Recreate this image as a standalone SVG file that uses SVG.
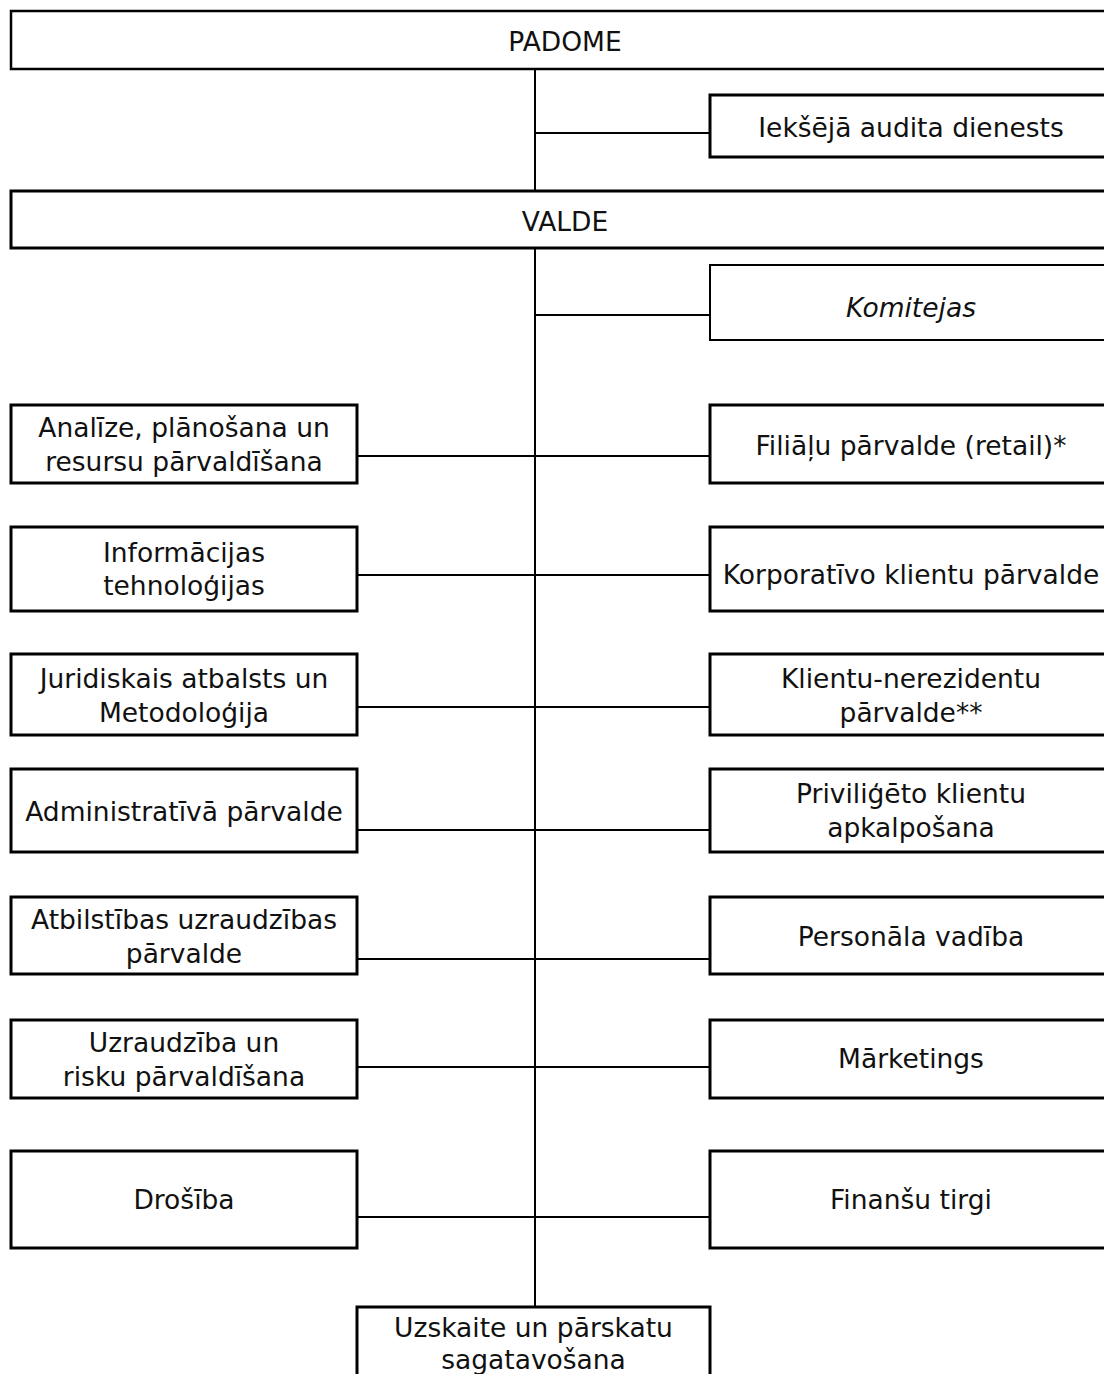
<svg xmlns="http://www.w3.org/2000/svg" width="1104" height="1374" viewBox="0 0 1104 1374">
<style>
.box{fill:#fff;stroke:#000;stroke-width:3}
.thin{stroke-width:2}
.ln{stroke:#000;stroke-width:2;fill:none}
text{font-family:"DejaVu Sans","Verdana",sans-serif;font-size:26.5px;fill:#111;text-anchor:middle}
.it{font-style:italic}
</style>
<rect width="1104" height="1374" fill="#fff"/>
<g id="connectors">
<line class="ln" x1="535" y1="69" x2="535" y2="1307"/>
<line class="ln" x1="535" y1="133" x2="710" y2="133"/>
<line class="ln" x1="535" y1="315" x2="710" y2="315"/>
<line class="ln" x1="357" y1="456" x2="710" y2="456"/>
<line class="ln" x1="357" y1="575" x2="710" y2="575"/>
<line class="ln" x1="357" y1="707" x2="710" y2="707"/>
<line class="ln" x1="357" y1="830" x2="710" y2="830"/>
<line class="ln" x1="357" y1="959" x2="710" y2="959"/>
<line class="ln" x1="357" y1="1067" x2="710" y2="1067"/>
<line class="ln" x1="357" y1="1217" x2="710" y2="1217"/>
</g>
<g id="padome"><rect class="box" x="11" y="11" width="1110" height="58" style="stroke-width:2.5"/><text x="565" y="51">PADOME</text></g>
<g id="audits"><rect class="box" x="710" y="95" width="410" height="62"/><text x="911" y="137">Iekšējā audita dienests</text></g>
<g id="valde"><rect class="box" x="11" y="191" width="1110" height="57"/><text x="565" y="231">VALDE</text></g>
<g id="komitejas"><rect class="box thin" x="710" y="265" width="410" height="75"/><text class="it" x="911" y="317">Komitejas</text></g>

<g id="analize"><rect class="box" x="11" y="405" width="346" height="78"/><text x="184" y="437">Analīze, plānošana un</text><text x="184" y="471">resursu pārvaldīšana</text></g>
<g id="filialu"><rect class="box" x="710" y="405" width="410" height="78"/><text x="911" y="455">Filiāļu pārvalde (retail)*</text></g>

<g id="it"><rect class="box" x="11" y="527" width="346" height="84"/><text x="184" y="562">Informācijas</text><text x="184" y="595">tehnoloģijas</text></g>
<g id="korporativo"><rect class="box" x="710" y="527" width="410" height="84"/><text x="911" y="584">Korporatīvo klientu pārvalde</text></g>

<g id="juridiskais"><rect class="box" x="11" y="654" width="346" height="81"/><text x="184" y="688">Juridiskais atbalsts un</text><text x="184" y="722">Metodoloģija</text></g>
<g id="nerezidentu"><rect class="box" x="710" y="654" width="410" height="81"/><text x="911" y="688">Klientu-nerezidentu</text><text x="911" y="722">pārvalde**</text></g>

<g id="administrativa"><rect class="box" x="11" y="769" width="346" height="83"/><text x="184" y="821">Administratīvā pārvalde</text></g>
<g id="privilegeto"><rect class="box" x="710" y="769" width="410" height="83"/><text x="911" y="803">Priviliģēto klientu</text><text x="911" y="837">apkalpošana</text></g>

<g id="atbilstibas"><rect class="box" x="11" y="897" width="346" height="77"/><text x="184" y="929">Atbilstības uzraudzības</text><text x="184" y="963">pārvalde</text></g>
<g id="personala"><rect class="box" x="710" y="897" width="410" height="77"/><text x="911" y="946">Personāla vadība</text></g>

<g id="uzraudziba"><rect class="box" x="11" y="1020" width="346" height="78"/><text x="184" y="1052">Uzraudzība un</text><text x="184" y="1086">risku pārvaldīšana</text></g>
<g id="marketings"><rect class="box" x="710" y="1020" width="410" height="78"/><text x="911" y="1068">Mārketings</text></g>

<g id="drosiba"><rect class="box" x="11" y="1151" width="346" height="97"/><text x="184" y="1209">Drošība</text></g>
<g id="finansu"><rect class="box" x="710" y="1151" width="410" height="97"/><text x="911" y="1209">Finanšu tirgi</text></g>

<g id="uzskaite"><rect class="box" x="357" y="1307" width="353" height="90"/><text x="533.5" y="1337">Uzskaite un pārskatu</text><text x="533.5" y="1369">sagatavošana</text></g>
</svg>
